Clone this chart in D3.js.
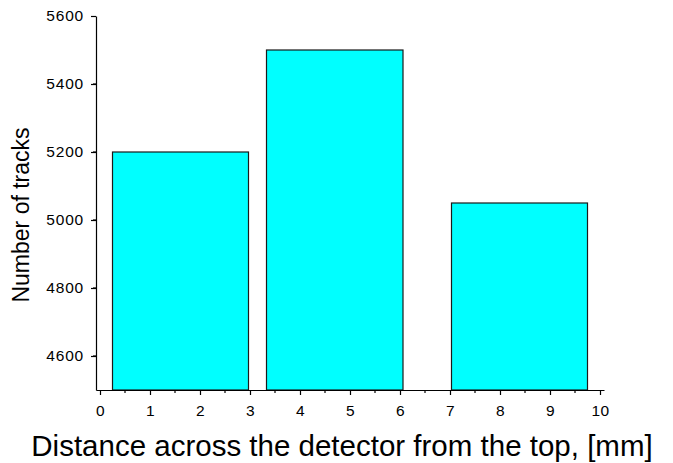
<!DOCTYPE html>
<html><head><meta charset="utf-8">
<script src="https://cdn.jsdelivr.net/npm/d3@7"></script>
<style>body{margin:0;background:#fff}svg{display:block}text{font-family:"Liberation Sans",Arial,sans-serif;fill:#000}</style>
</head><body><svg id="c" width="673" height="463"></svg>
<script>
const binStart = [0.25, 3.33, 7.03];
const binEnd = [2.97, 6.06, 9.75];
const counts = [5200, 5500, 5050];
const xTicks = [0,1,2,3,4,5,6,7,8,9,10];
const yTicks = [4600,4800,5000,5200,5400,5600];
const xLabel = "Distance across the detector from the top, [mm]";
const yLabel = "Number of tracks";

const svg = d3.select("#c");
const x = d3.scaleLinear().domain([-0.08, 10.08]).range([96, 604]);
const y = d3.scaleLinear().domain([4500, 5600]).range([390, 16]);

const bars = binStart.map((s,i)=>({s, e: binEnd[i], v: counts[i]}));
svg.selectAll("rect.bar").data(bars).enter().append("rect")
  .attr("x", d=>x(d.s)).attr("width", d=>x(d.e)-x(d.s))
  .attr("y", d=>y(d.v)).attr("height", d=>y(4500)-y(d.v))
  .attr("fill","#00ffff").attr("stroke","#1a1a1a").attr("stroke-width",1.2);

const fmt = d3.format("d");
// axes
const xAxis = d3.axisBottom(x).tickValues(xTicks).tickFormat(fmt).tickSize(5).tickSizeOuter(0).tickPadding(10);
const gx = svg.append("g").attr("transform",`translate(0,${y(4500)})`).call(xAxis);
gx.selectAll("text").attr("font-size",15.5).style("letter-spacing","0.3px");
gx.select(".domain").attr("stroke-width",1.2);
gx.selectAll(".tick line").attr("stroke-width",1.2);
const xMinor = d3.range(0.5,10,1);
gx.selectAll("line.minor").data(xMinor).enter().append("line")
  .attr("x1",d=>x(d)).attr("x2",d=>x(d)).attr("y1",0).attr("y2",3).attr("stroke","#000").attr("stroke-width",1.2);

const yAxis = d3.axisLeft(y).tickValues(yTicks).tickFormat(fmt).tickSize(5).tickSizeOuter(0).tickPadding(7);
const gy = svg.append("g").attr("transform",`translate(${x(-0.08)},0)`).call(yAxis);
gy.selectAll("text").attr("font-size",15.5).style("letter-spacing","0.8px");
gy.select(".domain").attr("stroke-width",1.2);
gy.selectAll(".tick line").attr("stroke-width",1.2);
const yMinor = d3.range(4500,5600,200).map(v=>v+100).filter(v=>v<5600);
gy.selectAll("line.minor").data(yMinor).enter().append("line")
  .attr("y1",d=>y(d)).attr("y2",d=>y(d)).attr("x1",0).attr("x2",-3).attr("stroke","#000").attr("stroke-width",1.2);
gy.selectAll(".domain, .tick line").attr("stroke","#000");
gx.selectAll(".domain, .tick line").attr("stroke","#000");

svg.append("text").attr("x",342).attr("y",456).attr("text-anchor","middle").attr("font-size",29.5).text(xLabel);
svg.append("text").attr("transform","translate(28.5,215) rotate(-90)").attr("text-anchor","middle").attr("font-size",23).text(yLabel);
</script></body></html>
